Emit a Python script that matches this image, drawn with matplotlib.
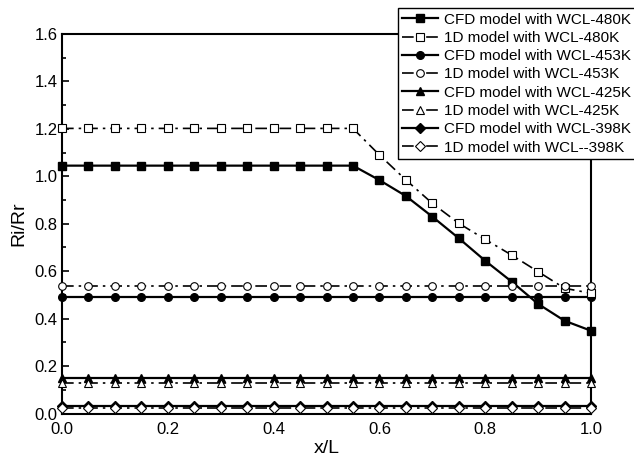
import numpy as np
import matplotlib
matplotlib.use("Agg")
import matplotlib.pyplot as plt
from matplotlib.ticker import MultipleLocator

plt.rcParams['font.family'] = ['Liberation Sans', 'DejaVu Sans']

x = [0.0, 0.05, 0.1, 0.15, 0.2, 0.25, 0.3, 0.35, 0.4, 0.45, 0.5,
     0.55, 0.6, 0.65, 0.7, 0.75, 0.8, 0.85, 0.9, 0.95, 1.0]

cfd_480 = [1.045] * 12 + [0.984, 0.917, 0.830, 0.739, 0.644, 0.556, 0.462, 0.391, 0.349]
one_480 = [1.202] * 12 + [1.090, 0.985, 0.886, 0.802, 0.734, 0.668, 0.598, 0.528, 0.507]
cfd_453 = [0.490] * 21
one_453 = [0.538] * 21
cfd_425 = [0.148] * 21
one_425 = [0.128] * 21
cfd_398 = [0.030] * 21
one_398 = [0.024] * 21

labels = ["CFD model with WCL-480K", "1D model with WCL-480K",
          "CFD model with WCL-453K", "1D model with WCL-453K",
          "CFD model with WCL-425K", "1D model with WCL-425K",
          "CFD model with WCL-398K", "1D model with WCL--398K"]

fig = plt.figure(figsize=(6.34, 4.57), dpi=100)
ax = fig.add_axes([62/634, 1-413.5/457, (591-62)/634, (413.5-34)/457])

series = [(cfd_480, 's', True), (one_480, 's', False),
          (cfd_453, 'o', True), (one_453, 'o', False),
          (cfd_425, '^', True), (one_425, '^', False),
          (cfd_398, 'D', True), (one_398, 'D', False)]

handles = []
for (ys, m, solid), lab in zip(series, labels):
    if solid:
        h, = ax.plot(x, ys, color='black', lw=1.6, ls='-', marker=m,
                     ms=5.5 if m != 'D' else 5, mfc='black', mec='black',
                     label=lab, clip_on=False, zorder=3)
    else:
        h, = ax.plot(x, ys, color='black', lw=1.2, ls=(0, (7, 3, 1.5, 3)),
                     marker=m, ms=5.5 if m != 'D' else 5, mfc='white',
                     mec='black', mew=0.8, label=lab, clip_on=False, zorder=4)
    handles.append(h)

ax.set_xlim(0, 1.0)
ax.set_ylim(0, 1.6)
ax.xaxis.set_major_locator(MultipleLocator(0.2))
ax.xaxis.set_minor_locator(MultipleLocator(0.1))
ax.yaxis.set_major_locator(MultipleLocator(0.2))
ax.yaxis.set_minor_locator(MultipleLocator(0.1))
ax.xaxis.set_major_formatter(matplotlib.ticker.FormatStrFormatter('%.1f'))
ax.yaxis.set_major_formatter(matplotlib.ticker.FormatStrFormatter('%.1f'))
ax.tick_params(which='both', direction='in', top=False, right=False,
               labelsize=12, width=1.2)
ax.tick_params(axis='x', which='major', pad=6)
ax.tick_params(axis='y', which='major', pad=3)
ax.tick_params(which='major', length=5)
ax.tick_params(which='minor', length=3)
for s in ax.spines.values():
    s.set_linewidth(1.5)

ax.set_xlabel('x/L', fontsize=14, labelpad=2)
ax.set_ylabel('Ri/Rr', fontsize=14, labelpad=5)

leg = fig.legend(handles=handles, loc='upper right',
                 bbox_to_anchor=(1.002, 1 - 8/457), fontsize=11,
                 frameon=True, fancybox=False, edgecolor='black',
                 framealpha=1, handlelength=2.3, handletextpad=0.4,
                 labelspacing=0.28, borderpad=0.3, borderaxespad=0)
leg.get_frame().set_linewidth(1.0)

fig.savefig('out.png', dpi=100)
